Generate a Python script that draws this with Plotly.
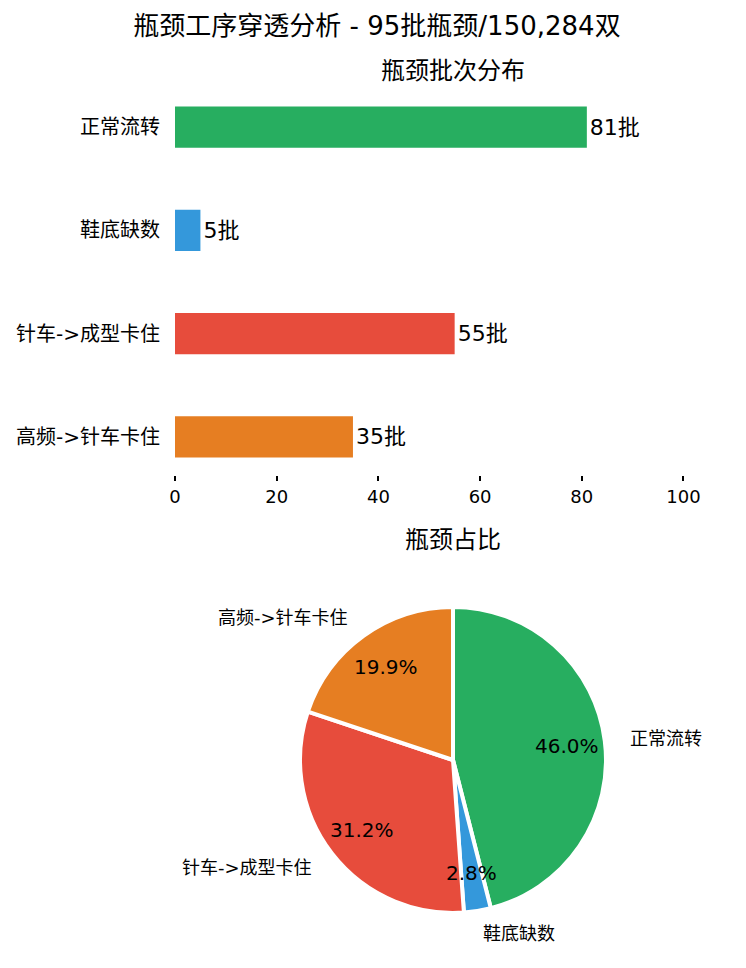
import numpy as np
import plotly.graph_objects as go

# 瓶颈分类数据（饼图顺序：顺时针从12点开始）
categories = ['正常流转', '鞋底缺数', '针车->成型卡住', '高频->针车卡住']
batch_counts = [81, 5, 55, 35]
colors = ['#27ae60', '#3498db', '#e74c3c', '#e67e22']

main_title = '瓶颈工序穿透分析 - 95批瓶颈/150,284双'
bar_title = '瓶颈批次分布'
pie_title = '瓶颈占比'

FONT = 'DejaVu Sans, Noto Sans CJK SC'
pie_domain = dict(x=[0.2248, 0.7752], y=[0.0626, 0.4107])
# 标签辅助坐标系：与饼图同心，1单位=饼半径
K = 1.3
label_domain = dict(x=[0.1423, 0.8577], y=[0.0104, 0.4629])

# 饼图标签位置：按扇区中心角计算
vals = np.array(batch_counts, dtype=float)
frac = vals / vals.sum()
mid_cw = (np.cumsum(frac) - frac / 2) * 360          # 从12点顺时针
theta = np.deg2rad(90 - mid_cw)
pct_r = 0.75
lab_r = 1.15
pct_text = [f'{f * 100:.1f}%' for f in frac]

fig = go.Figure()

# 横向柱状图
fig.add_trace(go.Bar(
    x=batch_counts,
    y=categories,
    orientation='h',
    width=0.4,
    marker=dict(color=colors, line=dict(width=0)),
    text=[f'{v}批' for v in batch_counts],
    textposition='outside',
    textfont=dict(size=22, color='black', family=FONT),
    cliponaxis=False,
    showlegend=False,
    xaxis='x', yaxis='y'
))

# 饼图
fig.add_trace(go.Pie(
    labels=categories,
    values=batch_counts,
    sort=False,
    direction='clockwise',
    rotation=0,
    marker=dict(colors=colors, line=dict(color='white', width=4)),
    textinfo='none',
    domain=pie_domain,
    showlegend=False
))

# 隐藏的辅助坐标系（放标签用）
fig.add_trace(go.Scatter(
    x=lab_r * np.cos(theta), y=lab_r * np.sin(theta),
    mode='markers', marker=dict(size=1, opacity=0),
    hoverinfo='skip', showlegend=False,
    xaxis='x2', yaxis='y2'
))

annotations = [
    dict(text=bar_title, x=0.5, y=1, xref='paper', yref='paper',
         xanchor='center', yanchor='bottom', yshift=2, showarrow=False,
         font=dict(size=24, color='black')),
    dict(text=pie_title, x=0.5, y=0.487, xref='paper', yref='paper',
         xanchor='center', yanchor='middle', showarrow=False,
         font=dict(size=24, color='black')),
]
for i, cat in enumerate(categories):
    cx, cy = np.cos(theta[i]), np.sin(theta[i])
    annotations.append(dict(
        text=pct_text[i], x=pct_r * cx, y=pct_r * cy, xref='x2', yref='y2',
        xanchor='center', yanchor='middle', showarrow=False,
        font=dict(size=20, color='black')))
    annotations.append(dict(
        text=cat, x=lab_r * cx, y=lab_r * cy, xref='x2', yref='y2',
        xanchor='left' if cx > 0 else 'right', yanchor='middle', showarrow=False,
        font=dict(size=18, color='black')))

fig.update_layout(
    title=dict(text=main_title, x=0.5, xref='container', y=0.981, yanchor='middle',
               font=dict(size=26, color='black', family=FONT)),
    width=738,
    height=960,
    margin=dict(l=167, r=15, t=81, b=0),
    plot_bgcolor='white',
    paper_bgcolor='white',
    font=dict(family=FONT, color='black'),
    xaxis=dict(
        domain=[0, 1],
        range=[0, 109.35],
        tickvals=[0, 20, 40, 60, 80, 100],
        ticks='outside', ticklen=5, tickwidth=1.5, tickcolor='black',
        showgrid=False, zeroline=False, showline=False,
        tickfont=dict(size=18, color='black')
    ),
    yaxis=dict(
        domain=[0.5609, 1],
        range=[3.37, -0.37],
        categoryorder='array', categoryarray=categories,
        ticks='', showgrid=False, zeroline=False, showline=False,
        ticklabelstandoff=14,
        tickfont=dict(size=20, color='black')
    ),
    xaxis2=dict(domain=label_domain['x'], range=[-K, K], visible=False, anchor='y2'),
    yaxis2=dict(domain=label_domain['y'], range=[-K, K], visible=False, anchor='x2'),
    annotations=annotations
)

fig.write_html('out.html')
